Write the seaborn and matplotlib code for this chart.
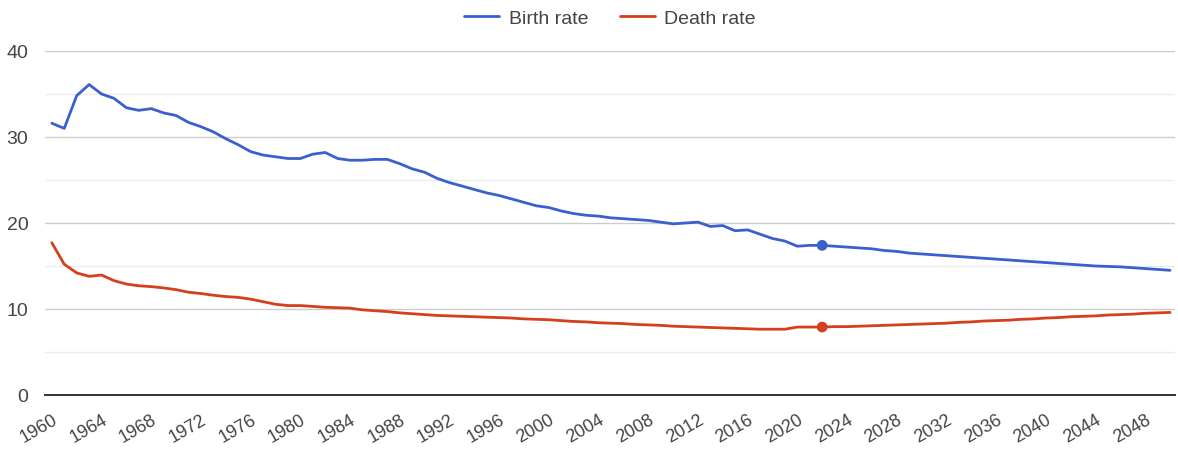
import numpy as np
import pandas as pd
import matplotlib
matplotlib.use("Agg")
import matplotlib.pyplot as plt
from matplotlib.ticker import MultipleLocator
import seaborn as sns

# Crude birth and death rates (per 1,000 people), 1960-2050
years = list(range(1960, 2051))

birth_rate = [
    31.6, 31.0, 34.8, 36.1, 35.0, 34.5, 33.4, 33.1, 33.3, 32.8,   # 1960s
    32.5, 31.7, 31.2, 30.6, 29.8, 29.1, 28.3, 27.9, 27.7, 27.5,   # 1970s
    27.5, 28.0, 28.2, 27.5, 27.3, 27.3, 27.4, 27.4, 26.9, 26.3,   # 1980s
    25.9, 25.2, 24.7, 24.3, 23.9, 23.5, 23.2, 22.8, 22.4, 22.0,   # 1990s
    21.8, 21.4, 21.1, 20.9, 20.8, 20.6, 20.5, 20.4, 20.3, 20.1,   # 2000s
    19.9, 20.0, 20.1, 19.6, 19.7, 19.1, 19.2, 18.7, 18.2, 17.9,   # 2010s
    17.3, 17.4, 17.4, 17.3, 17.2, 17.1, 17.0, 16.8, 16.7, 16.5,   # 2020s
    16.4, 16.3, 16.2, 16.1, 16.0, 15.9, 15.8, 15.7, 15.6, 15.5,   # 2030s
    15.4, 15.3, 15.2, 15.1, 15.0, 14.95, 14.9, 14.8, 14.7, 14.6,  # 2040s
    14.5,                                                         # 2050
]

death_rate = [
    17.7, 15.2, 14.2, 13.8, 13.95, 13.3, 12.9, 12.7, 12.6, 12.45,
    12.25, 11.95, 11.8, 11.6, 11.45, 11.35, 11.15, 10.85, 10.55, 10.4,
    10.4, 10.3, 10.2, 10.15, 10.1, 9.9, 9.8, 9.7, 9.55, 9.45,
    9.35, 9.25, 9.2, 9.15, 9.1, 9.05, 9.0, 8.95, 8.85, 8.8,
    8.75, 8.65, 8.55, 8.5, 8.4, 8.35, 8.3, 8.2, 8.15, 8.1,
    8.0, 7.95, 7.9, 7.85, 7.8, 7.75, 7.7, 7.65, 7.65, 7.65,
    7.9, 7.9, 7.9, 7.95, 7.95, 8.0, 8.05, 8.1, 8.15, 8.2,
    8.25, 8.3, 8.35, 8.45, 8.5, 8.6, 8.65, 8.7, 8.8, 8.85,
    8.95, 9.0, 9.1, 9.15, 9.2, 9.3, 9.35, 9.4, 9.5, 9.55,
    9.6,
]

series_names = ["Birth rate", "Death rate"]
series_colors = ["#3b5fcc", "#d63e1c"]
current_year = 2022
x_ticks = list(range(1960, 2049, 4))
y_ticks = [0, 10, 20, 30, 40]

df = pd.DataFrame({
    "year": years * 2,
    "rate": birth_rate + death_rate,
    "series": [series_names[0]] * len(years) + [series_names[1]] * len(years),
})
palette = dict(zip(series_names, series_colors))

sns.set_theme(style="white")
plt.rcParams["font.family"] = ["Liberation Sans", "DejaVu Sans"]

fig = plt.figure(figsize=(11.78, 4.52), dpi=100)
ax = fig.add_axes([45 / 1178, 1 - 396 / 452, 1130 / 1178, 344 / 452])

sns.lineplot(data=df, x="year", y="rate", hue="series", palette=palette,
             linewidth=2.0, ax=ax, legend=False, zorder=3)
for line in ax.get_lines():
    line.set_solid_joinstyle("round")
    line.set_solid_capstyle("round")

# Highlight the current-year values
cur = df[df["year"] == current_year]
sns.scatterplot(data=cur, x="year", y="rate", hue="series", palette=palette,
                s=60, edgecolor="none", ax=ax, legend=False, zorder=4)

ax.set_xlim(1959.45, 2050.4)
ax.set_ylim(0, 40)

ax.yaxis.set_major_locator(MultipleLocator(10))
ax.yaxis.set_minor_locator(MultipleLocator(5))
ax.set_yticks(y_ticks)
ax.grid(which="major", axis="y", color="#cccccc", linewidth=1.0, zorder=0)
ax.grid(which="minor", axis="y", color="#ececec", linewidth=1.0, zorder=0)
ax.grid(False, axis="x")

ax.set_xticks(x_ticks)
ax.set_xticklabels([str(y) for y in x_ticks], rotation=30, ha="right",
                   rotation_mode="anchor")
ax.tick_params(axis="x", length=0, pad=11, labelsize=13, colors="#444444")
ax.tick_params(axis="y", which="both", length=0, pad=12, labelsize=14,
               colors="#444444")

for side in ["top", "right", "left"]:
    ax.spines[side].set_visible(False)
ax.spines["bottom"].set_color("#333333")
ax.spines["bottom"].set_linewidth(1.4)
ax.set_xlabel("")
ax.set_ylabel("")

handles = [plt.Line2D([], [], color=c, linewidth=2.0) for c in series_colors]
ax.legend(handles, series_names, loc="center", bbox_to_anchor=(0.5, 1.095),
          ncol=2, frameon=False, fontsize=14, handlelength=1.8,
          columnspacing=1.6, handletextpad=0.5, labelcolor="#444444")

fig.savefig("out.png", dpi=100, facecolor="white")
